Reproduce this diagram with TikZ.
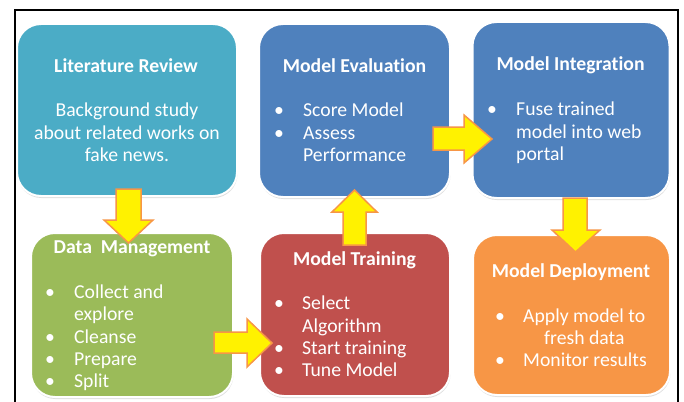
\documentclass[tikz,border=0pt]{standalone}
\usepackage{fontspec}
\setmainfont{Carlito}[Ligatures=NoCommon]
\usepackage{tikz}
\usetikzlibrary{shadows}
\definecolor{litcol}{HTML}{4BACC6}
\definecolor{modcol}{HTML}{4F81BD}
\definecolor{datcol}{HTML}{9BBB59}
\definecolor{trncol}{HTML}{C0504D}
\definecolor{depcol}{HTML}{F79646}
\definecolor{arrline}{HTML}{F79646}

\begin{document}
\begin{tikzpicture}[x=1pt,y=-1pt,
  stagebox/.style={draw=white,line width=2pt,rounded corners=24pt,
    drop shadow={shadow xshift=0.5pt,shadow yshift=-2pt,opacity=0.25}},
  title/.style={font=\fontsize{19.7}{23}\selectfont\bfseries,text=white,anchor=base,inner sep=0pt},
  txt/.style={font=\fontsize{19.7}{23}\selectfont,text=white,anchor=base west,inner sep=0pt},
  ctxt/.style={font=\fontsize{19.7}{23}\selectfont,text=white,anchor=base,inner sep=0pt},
  bul/.style={font=\fontsize{19.7}{23}\selectfont,text=white,anchor=base,inner sep=0pt},
  yarrow/.style={fill=yellow,draw=arrline,line width=1.5pt,line join=miter}]
\useasboundingbox (0,0) rectangle (684,401);
\fill[white] (0,0) rectangle (684,401);
\draw[line width=1.5pt] (15,403) -- (15,10) -- (678,10) -- (678,403);

% stages
\node[stagebox,fill=litcol,minimum width=220pt,minimum height=172pt] (lit) at (127,110) {};
\node[stagebox,fill=modcol,minimum width=191pt,minimum height=173pt] (eval) at (354.5,110.5) {};
\node[stagebox,fill=modcol,minimum width=197pt,minimum height=176pt] (integ) at (571,110) {};
\node[stagebox,fill=datcol,minimum width=202pt,minimum height=164pt] (data) at (132,315) {};
\node[stagebox,fill=trncol,minimum width=190pt,minimum height=163pt] (train) at (355,314.5) {};
\node[stagebox,fill=depcol,minimum width=197pt,minimum height=160pt] (deploy) at (571.5,315) {};

% Literature Review
\node[title] (litT) at (126,72.5) {Literature Review};
\node[ctxt] (lit1) at (127,116.5) {Background study};
\node[ctxt] (lit2) at (127,139.5) {about related works on};
\node[ctxt] (lit3) at (127,161.5) {fake news.};

% Model Evaluation
\node[title] (evalT) at (354.5,72.5) {Model Evaluation};
\node[bul] (evalB1) at (279,116.5) {•};
\node[txt] (eval1) at (303,116.5) {Score Model};
\node[bul] (evalB2) at (279,139.5) {•};
\node[txt] (eval2) at (303,139.5) {Assess};
\node[txt] (eval3) at (303,161.5) {Performance};

% Model Integration
\node[title] (integT) at (570.5,70.5) {Model Integration};
\node[bul] (integB1) at (492,115.5) {•};
\node[txt] (integ1) at (516,115.5) {Fuse trained};
\node[txt] (integ2) at (516,138.5) {model into web};
\node[txt] (integ3) at (516,160.5) {portal};

% Data Management
\node[title] (dataT) at (132,253.5) {Data\ \ Management};
\node[bul] (dataB1) at (50,298.5) {•};
\node[txt] (data1) at (74,298.5) {Collect and};
\node[txt] (data2) at (74,320.5) {explore};
\node[bul] (dataB2) at (50,343.5) {•};
\node[txt] (data3) at (74,343.5) {Cleanse};
\node[bul] (dataB3) at (50,365.5) {•};
\node[txt] (data4) at (74,365.5) {Prepare};
\node[bul] (dataB4) at (50,387.5) {•};
\node[txt] (data5) at (74,387.5) {Split};

% Model Training
\node[title] (trainT) at (354.5,265.5) {Model Training};
\node[bul] (trainB1) at (279,309.5) {•};
\node[txt] (train1) at (302,309.5) {Select};
\node[txt] (train2) at (302,332.5) {Algorithm};
\node[bul] (trainB2) at (279,354.5) {•};
\node[txt] (train3) at (302,354.5) {Start training};
\node[bul] (trainB3) at (279,376.5) {•};
\node[txt] (train4) at (302,376.5) {Tune Model};

% Model Deployment
\node[title] (depT) at (571,277.5) {Model Deployment};
\node[bul] (depB1) at (500,322.5) {•};
\node[txt] (dep1) at (523,322.5) {Apply model to};
\node[txt] (dep2) at (544,344.5) {fresh data};
\node[bul] (depB2) at (500,366.5) {•};
\node[txt] (dep3) at (523,366.5) {Monitor results};

% arrows
\draw[yarrow] (116,189) -- (141,189) -- (141,220) -- (153,220) -- (128.5,243)
  -- (104,220) -- (116,220) -- cycle;
\draw[yarrow] (214,332) -- (247,332) -- (247,319) -- (272,343) -- (247,367)
  -- (247,353) -- (214,353) -- cycle;
\draw[yarrow] (343,245) -- (343,212) -- (332,212) -- (354.5,190) -- (377,212)
  -- (366,212) -- (366,245) -- cycle;
\draw[yarrow] (433,127) -- (464,127) -- (464,115) -- (492,139) -- (464,163)
  -- (464,150) -- (433,150) -- cycle;
\draw[yarrow] (563,198) -- (587,198) -- (587,230) -- (600,230) -- (575.5,252)
  -- (552,230) -- (563,230) -- cycle;
\end{tikzpicture}
\end{document}
